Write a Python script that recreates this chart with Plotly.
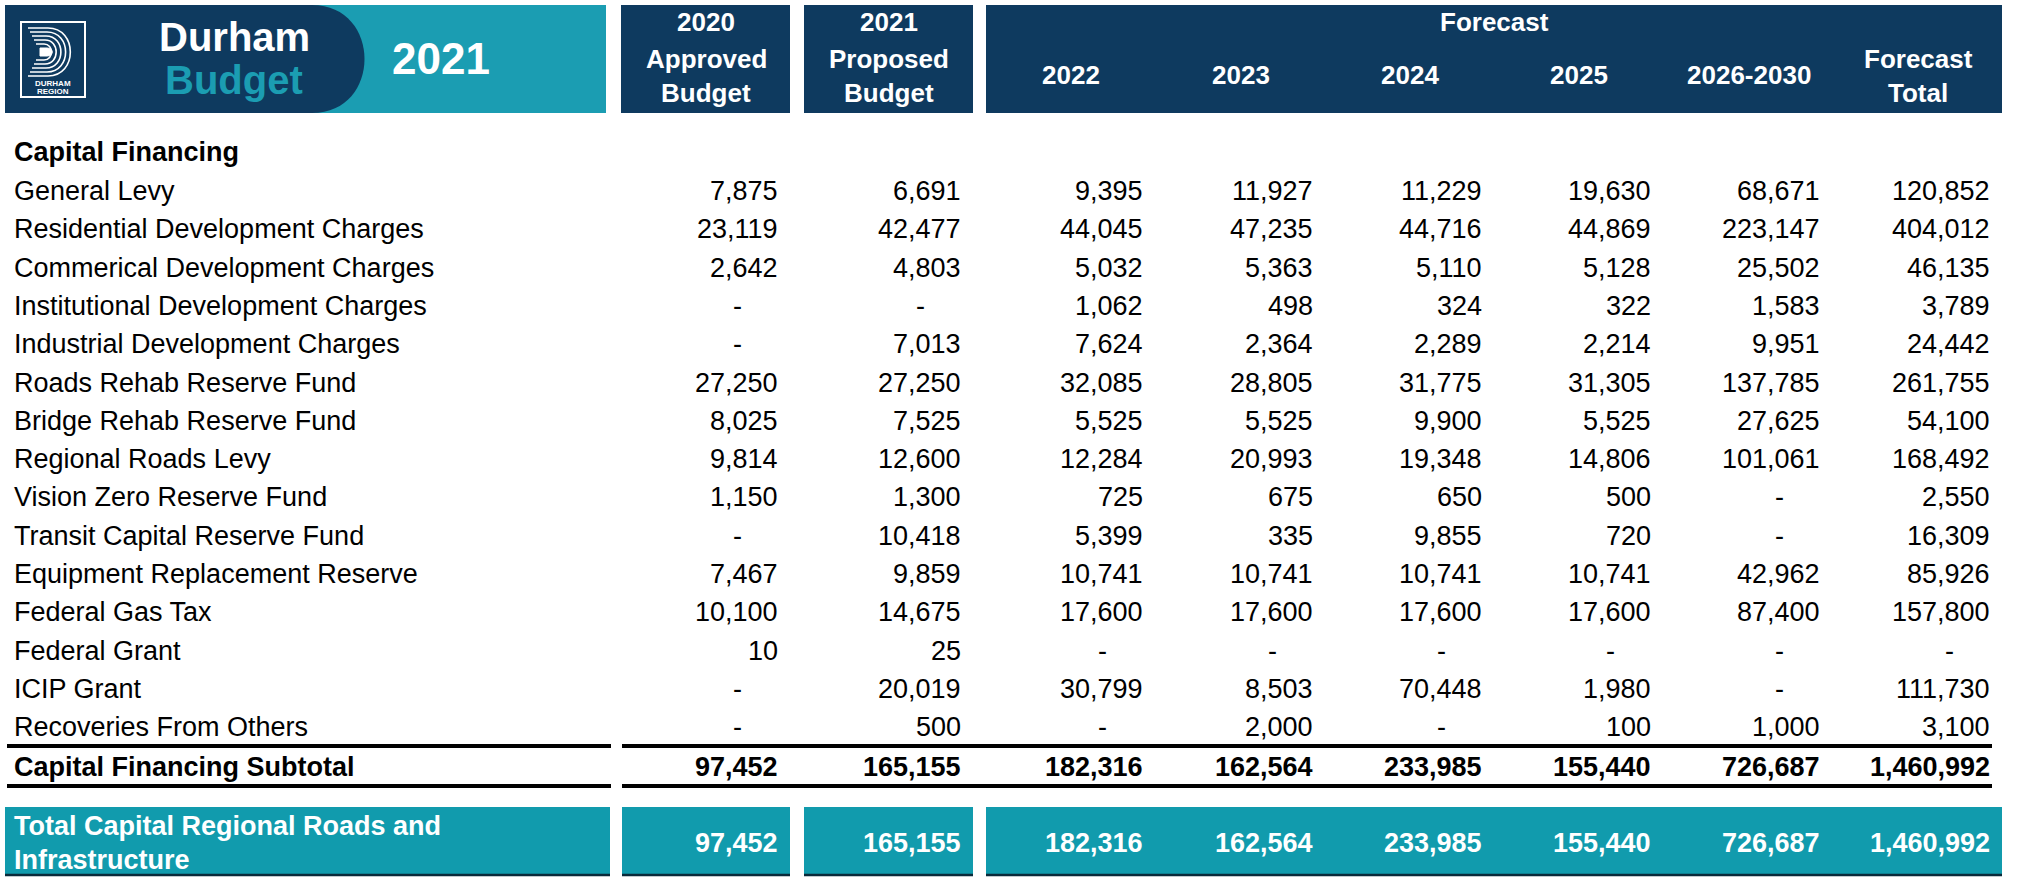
import plotly.graph_objects as go

# ---------------- DATA ----------------
row_labels = [
    "General Levy", "Residential Development Charges", "Commerical Development Charges",
    "Institutional Development Charges", "Industrial Development Charges",
    "Roads Rehab Reserve Fund", "Bridge Rehab Reserve Fund", "Regional Roads Levy",
    "Vision Zero Reserve Fund", "Transit Capital Reserve Fund",
    "Equipment Replacement Reserve", "Federal Gas Tax", "Federal Grant", "ICIP Grant",
    "Recoveries From Others",
]
budget_2020 = [7875, 23119, 2642, None, None, 27250, 8025, 9814, 1150, None, 7467, 10100, 10, None, None]
budget_2021 = [6691, 42477, 4803, None, 7013, 27250, 7525, 12600, 1300, 10418, 9859, 14675, 25, 20019, 500]
fc_2022 = [9395, 44045, 5032, 1062, 7624, 32085, 5525, 12284, 725, 5399, 10741, 17600, None, 30799, None]
fc_2023 = [11927, 47235, 5363, 498, 2364, 28805, 5525, 20993, 675, 335, 10741, 17600, None, 8503, 2000]
fc_2024 = [11229, 44716, 5110, 324, 2289, 31775, 9900, 19348, 650, 9855, 10741, 17600, None, 70448, None]
fc_2025 = [19630, 44869, 5128, 322, 2214, 31305, 5525, 14806, 500, 720, 10741, 17600, None, 1980, 100]
fc_2026_2030 = [68671, 223147, 25502, 1583, 9951, 137785, 27625, 101061, None, None, 42962, 87400, None, None, 1000]
fc_total = [120852, 404012, 46135, 3789, 24442, 261755, 54100, 168492, 2550, 16309, 85926, 157800, None, 111730, 3100]

subtotal = [97452, 165155, 182316, 162564, 233985, 155440, 726687, 1460992]
grand_total = [97452, 165155, 182316, 162564, 233985, 155440, 726687, 1460992]

col_headers_forecast = ["2022", "2023", "2024", "2025", "2026-2030"]
section_title = "Capital Financing"
subtotal_label = "Capital Financing Subtotal"
total_label = ["Total Capital Regional Roads and", "Infrastructure"]

series = [budget_2020, budget_2021, fc_2022, fc_2023, fc_2024, fc_2025, fc_2026_2030, fc_total]

# ---------------- LAYOUT / STYLE ----------------
W, H = 2021, 882
NAVY = "#0E3A5F"
TEAL = "#119BAD"
BTEAL = "#1B9DB2"
BODY = "Liberation Sans, Arial, sans-serif"
HEAD = "Liberation Sans Narrow, Arial Narrow, Liberation Sans, Arial, sans-serif"
FS = 27

col_right = [780, 963, 1145, 1315, 1484, 1653, 1822, 1992]
col_center = [706, 889, 1071, 1241, 1410, 1579, 1749, 1918]
dash_off = 36

row0_y = 191
pitch = 38.3
hdr_top, hdr_bot = 5, 113

fig = go.Figure()
shapes = []
ann = []

def rect(x0, x1, y0, y1, color):
    shapes.append(dict(type="rect", xref="x", yref="y", x0=x0, x1=x1, y0=y0, y1=y1,
                       fillcolor=color, line=dict(width=0), layer="below"))

def line(x0, x1, y0, y1, color, w):
    shapes.append(dict(type="line", xref="x", yref="y", x0=x0, x1=x1, y0=y0, y1=y1,
                       line=dict(color=color, width=w)))

def text(x, y, s, size, color="black", bold=False, anchor="left", family=BODY):
    ann.append(dict(x=x, y=y, xref="x", yref="y", text=f"<b>{s}</b>" if bold else s,
                    showarrow=False, xanchor=anchor, yanchor="middle",
                    font=dict(family=family, size=size, color=color)))

# ---- banner ----
rect(5, 606, hdr_top, hdr_bot, BTEAL)
shapes.append(dict(type="path", xref="x", yref="y",
                   path=f"M5,{hdr_top} H312 C382,{hdr_top} 382,{hdr_bot} 312,{hdr_bot} H5 Z",
                   fillcolor=NAVY, line=dict(width=0), layer="below"))
# logo box
shapes.append(dict(type="rect", xref="x", yref="y", x0=21, x1=85, y0=22, y1=97,
                   line=dict(color="white", width=2), fillcolor="rgba(0,0,0,0)"))
for k in range(5):
    t = 28 + k * 4
    b = 76 - k * 4
    xs = 48 - k * 1
    c = xs + (b - t) * 0.62
    shapes.append(dict(type="path", xref="x", yref="y",
                       path=f"M{28 + k*2},{t} H{xs} C{c},{t} {c},{b} {xs},{b} H{28 + k*2}",
                       line=dict(color="white", width=1.6)))
shapes.append(dict(type="path", xref="x", yref="y",
                   path="M40,48 H47 C54,48 54,56 47,56 H40 Z",
                   fillcolor="white", line=dict(color="white", width=1)))
text(53, 83, "DURHAM", 8, "white", True, "center")
text(53, 91, "REGION", 8, "white", True, "center")
text(234, 37, "Durham", 40, "white", True, "center", HEAD)
text(234, 80, "Budget", 40, BTEAL, True, "center", HEAD)
text(441, 58, "2021", 44, "white", True, "center", HEAD)

# ---- header boxes ----
rect(621, 790, hdr_top, hdr_bot, NAVY)
rect(804, 973, hdr_top, hdr_bot, NAVY)
rect(986, 2002, hdr_top, hdr_bot, NAVY)
for i, lines in enumerate([["2020", "Approved", "Budget"], ["2021", "Proposed", "Budget"]]):
    for j, s in enumerate(lines):
        text(col_center[i], [22, 59, 93][j], s, 26, "white", True, "center", HEAD)
text(1494, 22, "Forecast", 26, "white", True, "center", HEAD)
for i, s in enumerate(col_headers_forecast):
    text(col_center[2 + i], 75, s, 26, "white", True, "center", HEAD)
text(col_center[7], 59, "Forecast", 26, "white", True, "center", HEAD)
text(col_center[7], 93, "Total", 26, "white", True, "center", HEAD)

# ---- body ----
text(12, 152, section_title, FS, "black", True, "left")
for r, lab in enumerate(row_labels):
    y = row0_y + r * pitch
    text(12, y, lab, FS, "black", False, "left")
    for c, ser in enumerate(series):
        v = ser[r]
        if v is None:
            text(col_right[c] - dash_off, y, "-", FS, "black", False, "right")
        else:
            text(col_right[c], y, f"{v:,}", FS, "black", False, "right")

# subtotal
sub_y = 767
for yl in (746, 786):
    line(7, 611, yl, yl, "black", 4)
    line(622, 1992, yl, yl, "black", 4)
text(12, sub_y, subtotal_label, FS, "black", True, "left")
for c, v in enumerate(subtotal):
    text(col_right[c], sub_y, f"{v:,}", FS, "black", True, "right")

# total band
band_top, band_bot = 807, 875
for x0, x1 in [(5, 610), (622, 790), (804, 973), (986, 2002)]:
    rect(x0, x1, band_top, band_bot, TEAL)
    line(x0, x1, band_bot, band_bot, "#0A2A3A", 2.5)
text(12, 826, total_label[0], FS, "white", True, "left")
text(12, 860, total_label[1], FS, "white", True, "left")
for c, v in enumerate(grand_total):
    text(col_right[c], 843, f"{v:,}", FS, "white", True, "right")

fig.update_layout(
    width=W, height=H, margin=dict(l=0, r=0, t=0, b=0),
    paper_bgcolor="white", plot_bgcolor="white",
    xaxis=dict(range=[0, W], visible=False, fixedrange=True),
    yaxis=dict(range=[H, 0], visible=False, fixedrange=True),
    shapes=shapes, annotations=ann, showlegend=False,
)
fig.write_html("out.html", config={"displayModeBar": False},
               post_script="document.body.style.margin='0';document.body.style.overflow='hidden';")
